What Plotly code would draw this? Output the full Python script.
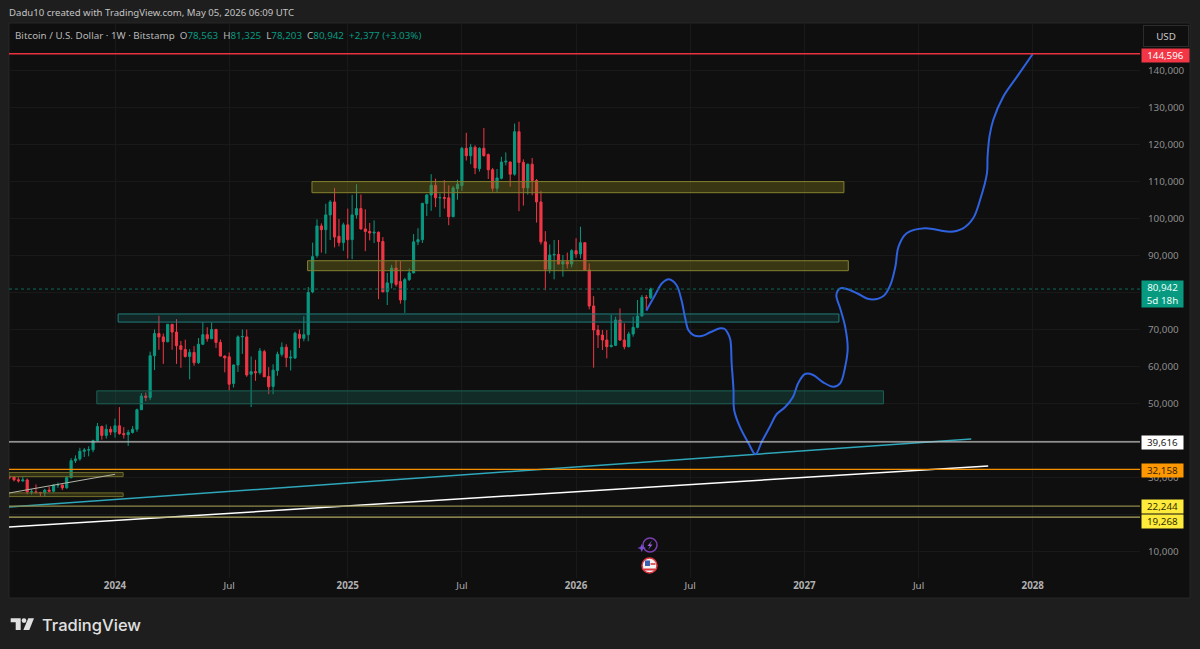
import pandas as pd
import plotly.graph_objects as go

# ---------- weekly candles (Bitstamp BTC/USD) ----------
first_week = "2023-07-17"
opens = [30250,30080,29350,29050,29300,26050,26100,25900,25850,26550,26250,27950,27950,27150,29950,34500,35000,37050,37400,37450,39950,43750,41350,43000,
         42250,43950,41850,41550,42150,43000,48300,52000,51600,62900,68900,68000,66700,71400,69300,65600,64600,62700,63800,61000,66000,68600,67500,70000,66500,62800,
         62600,55400,60400,68000,68000,57900,58600,58300,64000,57300,54600,58900,63300,65200,62300,62300,68700,67600,68600,80200,90000,98000,97000,101000,104500,95200,93500,
         98300,94300,101000,102700,97200,96500,96100,96300,93800,80200,82600,86600,83000,78000,83500,85300,93700,94300,104100,106400,109000,105600,105700,105600,100500,108100,108900,
         119000,117000,119300,113500,119000,117300,113200,108200,110900,115300,115300,112000,123500,115200,108300,114700,110300,104500,93700,86300,90150,90300,87710,88340,87710,
         91320,90420,93480,86090,76350,69860,68500,67150,65350,65710,72560,67150,65350,68780,70580,73650,78700,78563]
highs = [30400,30350,30050,30200,29700,26800,28100,26100,26900,27480,28100,28600,28000,30400,35200,35950,38000,37950,38400,40200,44700,44000,44300,43800,
         45900,49000,43600,42850,43900,48600,52800,52950,64000,70000,73700,68900,71500,71500,72800,66900,67250,64700,65500,67700,72000,70600,71900,70200,67300,63000,
         63800,60500,68400,70000,70000,62700,61800,65000,64500,59800,60600,64000,66500,66000,64400,69400,70000,73600,81500,93500,99800,98700,104000,105000,108300,99900,98900,
         102700,106400,109300,106500,102500,98800,99500,96500,95000,85300,87500,88800,88500,84000,86500,95800,97400,104300,106600,112000,110800,106800,110400,109000,108800,110500,
         119400,123200,120200,119800,119300,124500,117600,113700,113400,116700,117900,115400,125700,126200,116000,114900,116400,110700,107500,96600,93000,94200,94200,90150,90800,91700,
         94700,97800,93500,87890,79000,71210,69860,69860,74000,73460,75720,71660,69410,73460,77975,79330,79330,81325]
lows = [29500,28900,28600,28800,25400,25350,25650,24900,24900,26000,25950,27150,26550,26950,29700,33900,34500,35500,35700,36800,39900,40200,40500,41450,
        40750,41500,40500,38500,41850,42300,48300,50600,50900,59000,64500,60700,66500,64500,60700,59650,62400,56500,60200,60700,65800,66700,67400,65000,63400,58400,
        53500,54300,58500,63400,57200,49000,56100,57800,57200,52500,52500,57500,62700,59800,58900,62000,65000,66800,66800,79800,89400,90800,90500,94200,92200,92500,91300,
        89200,89000,100000,97000,91200,94100,93400,78200,80000,76600,81100,81600,77000,74500,83100,85200,92800,93400,100700,102100,103100,100400,102700,98200,100400,105100,
        107500,115700,114700,112000,112700,116800,110700,107300,107200,110600,114400,108600,111600,102000,103500,106500,106300,98900,93000,80600,85200,83565,87600,84290,86500,86800,
        89400,89200,86000,75450,59670,65000,64450,62200,65170,65500,66900,64630,65170,68055,70310,73500,75270,78203]
closes = [30080,29350,29050,29300,26050,26100,25900,25850,26550,26250,27950,27950,27150,29950,34500,35000,37050,37400,37450,39950,43750,41350,43000,42250,
          43950,41850,41550,42150,43000,48300,52000,51600,62900,68900,68000,66700,71400,69300,65600,64600,62700,63800,61000,66000,68600,67500,70000,66500,62800,62300,
          55200,60400,68000,68100,57700,58600,58300,64200,57200,54500,59000,63300,65200,62400,62500,69000,67600,68600,80000,89700,98000,97000,101000,104500,95000,93500,98300,
          94300,101000,102700,97200,96500,96100,96300,93800,80200,82600,86600,82200,78000,83500,85300,93700,94300,104100,106400,109000,105600,105700,105500,100500,108300,109300,
          119000,117000,119300,113700,119000,117000,113200,108200,111000,115300,115500,112000,123500,115200,108300,114700,110300,104500,93700,86300,90150,90300,87710,88340,87710,91320,
          90420,93480,86090,76350,69860,68500,67150,65350,65710,72560,67150,65350,68780,70580,73650,78700,78563,80942]

# ---------- drawings ----------
blue_dates = ["2026-04-27","2026-05-11","2026-05-22","2026-06-02","2026-06-14","2026-06-22","2026-06-28","2026-07-03","2026-07-11","2026-07-24",
              "2026-08-07","2026-08-23","2026-08-30","2026-09-04","2026-09-08","2026-09-10","2026-09-13","2026-09-14","2026-09-23","2026-10-07","2026-10-18",
              "2026-10-28","2026-11-10","2026-11-21","2026-12-04","2026-12-17","2026-12-25","2027-01-05","2027-01-18","2027-02-03","2027-02-19",
              "2027-03-02","2027-03-10","2027-03-14","2027-03-10","2027-03-02","2027-02-24","2027-03-02","2027-03-13","2027-03-31","2027-04-19",
              "2027-05-10","2027-05-21","2027-05-29","2027-06-03","2027-06-16","2027-07-15","2027-08-24","2027-09-14","2027-09-30","2027-10-11",
              "2027-10-22","2027-10-23","2027-10-26","2027-11-01","2027-11-17","2027-12-09","2028-01-03"]
blue_prices = [75080,79330,82490,83570,82030,77970,73020,69860,68500,68240,
               69240,70320,70130,68970,67160,60850,53630,48220,43700,39210,36240,
               39640,43700,47140,48950,51820,55440,57960,57690,55710,54520,
               55440,59930,64910,70750,75730,79330,81140,80950,79600,78160,
               79060,82030,86980,92390,96020,97370,96450,97370,100070,105020,
               112250,116740,122150,126660,132970,138380,144520]

zone_starts = ["2024-11-10","2024-11-03","2024-01-06","2023-12-03","2023-07-16","2023-07-16"]
zone_ends   = ["2027-03-08","2027-03-15","2027-02-28","2027-05-10","2024-01-14","2024-01-14"]
zone_tops   = [110000,88600,74200,53400,31300,25800]
zone_bottoms= [107000,85900,72000,49900,30200,24800]
zone_lines  = ["#85822f","#85822f","#1f7f7c","#1c6156","#6f6d2b","#6f6d2b"]
zone_fills  = ["rgba(125,118,30,0.38)","rgba(125,118,30,0.38)","rgba(28,120,118,0.22)","rgba(28,120,100,0.28)","rgba(125,118,30,0.30)","rgba(125,118,30,0.30)"]

trend_dates  = [["2023-07-16","2027-09-27"],["2023-07-16","2027-10-24"],["2023-07-16","2024-01-01"]]
trend_prices = [[21980,40370],[16570,33070],[25770,30830]]
trend_colors = ["#2fa7ba","#ffffff","#b5b5a8"]
trend_widths = [1.5,1.5,1]

level_prices = [144596,39616,32158,22244,19268]
level_colors = ["#e8323f","#bdbdbd","#f58f00","#8f8a4a","#b0a860"]
level_widths = [1.4,1.2,1.4,1.2,1.2]
tag_texts   = ["144,596","39,616","32,158","22,244","19,268"]
tag_bg      = ["#f23645","#ffffff","#ff9800","#ffeb3b","#ffeb3b"]
tag_fg      = ["#ffffff","#222222","#3a2500","#333000","#333000"]
tag_shift   = [-2,-1,-1,0,-4]
tag_width   = [47,41,41,41,41]

y_ticks = [10000,20000,30000,40000,50000,60000,70000,80000,90000,100000,110000,120000,130000,140000]
y_labels = ["10,000","","30,000","","50,000","60,000","70,000","","90,000","100,000","110,000","120,000","130,000","140,000"]
x_tick_dates = ["2024-01-01","2024-07-01","2025-01-06","2025-07-07","2026-01-05","2026-07-06","2027-01-04","2027-07-05","2028-01-03"]
x_tick_labels = ["<b>2024</b>","Jul","<b>2025</b>","Jul","<b>2026</b>","Jul","<b>2027</b>","Jul","<b>2028</b>"]

dates = pd.date_range(first_week, periods=len(opens), freq="7D")

# ---------- page geometry ----------
W, H = 1200, 649
PL, PR, PT, PB = 9, 1140, 23, 578
def px(x): return (x - PL) / (PR - PL)
def py(y): return (PB - y) / (PB - PT)
FONT = "Noto Sans"
UP, DOWN = "#089981", "#f23645"

fig = go.Figure()
fig.add_trace(go.Candlestick(x=dates, open=opens, high=highs, low=lows, close=closes,
    increasing=dict(line=dict(color=UP, width=1), fillcolor=UP),
    decreasing=dict(line=dict(color=DOWN, width=1), fillcolor=DOWN),
    whiskerwidth=0, showlegend=False, hoverinfo="skip"))

for x0, x1, top, bot, lc, fc in zip(zone_starts, zone_ends, zone_tops, zone_bottoms, zone_lines, zone_fills):
    fig.add_trace(go.Scatter(x=[x0, x1, x1, x0, x0], y=[top, top, bot, bot, top], mode="lines",
        fill="toself", fillcolor=fc, line=dict(color=lc, width=1), showlegend=False, hoverinfo="skip"))

for xs, ys, c, w in zip(trend_dates, trend_prices, trend_colors, trend_widths):
    fig.add_trace(go.Scatter(x=xs, y=ys, mode="lines", line=dict(color=c, width=w), showlegend=False, hoverinfo="skip"))

fig.add_trace(go.Scatter(x=blue_dates, y=blue_prices, mode="lines",
    line=dict(color="#2f62e0", width=2, shape="spline", smoothing=1.0), showlegend=False, hoverinfo="skip"))

shapes = []
shapes.append(dict(type="rect", xref="paper", yref="paper", x0=px(9), x1=px(1190), y0=py(598), y1=py(23),
                   fillcolor="#0f0f0f", line=dict(color="#262626", width=1), layer="below"))
for p, c, w in zip(level_prices, level_colors, level_widths):
    shapes.append(dict(type="line", xref="paper", yref="y", x0=0, x1=1, y0=p, y1=p, line=dict(color=c, width=w)))
shapes.append(dict(type="line", xref="paper", yref="y", x0=0, x1=1, y0=closes[-1], y1=closes[-1],
                   line=dict(color="#0b6b5a", width=1, dash="dot")))

def ppath(points):
    return "M " + " L ".join(f"{px(a):.5f} {py(b):.5f}" for a, b in points) + " Z"
logo = "#e0e0e0"
shapes.append(dict(type="path", xref="paper", yref="paper", fillcolor=logo, line=dict(width=0),
    path=ppath([(10.7,618.3),(20.7,618.3),(20.7,630),(15.7,630),(15.7,622.3),(10.7,622.3)])))
shapes.append(dict(type="circle", xref="paper", yref="paper", fillcolor=logo, line=dict(width=0),
    x0=px(21.6), x1=px(26.4), y0=py(623), y1=py(618.2)))
shapes.append(dict(type="path", xref="paper", yref="paper", fillcolor=logo, line=dict(width=0),
    path=ppath([(28.3,618.3),(34,618.3),(29.3,630),(23.3,630)])))
shapes.append(dict(type="circle", xref="paper", yref="paper", line=dict(color="#7b3fb0", width=1.5), fillcolor="#0f0f0f",
    x0=px(643), x1=px(657), y0=py(552), y1=py(538)))
shapes.append(dict(type="path", xref="paper", yref="paper", fillcolor="#7b4fd0", line=dict(width=0),
    path=ppath([(641.7,544),(643,547),(646,548),(643,549),(641.7,552),(640.4,549),(637.4,548),(640.4,547)])))
shapes.append(dict(type="path", xref="paper", yref="paper", fillcolor="#a560e0", line=dict(width=0),
    path=ppath([(652,540.5),(647.5,546),(650,546),(648,550),(652.5,544.5),(650,544.5)])))
shapes.append(dict(type="circle", xref="paper", yref="paper", line=dict(color="#d9363e", width=1.5), fillcolor="#f2f2f2",
    x0=px(642), x1=px(657), y0=py(573), y1=py(558)))
shapes.append(dict(type="rect", xref="paper", yref="paper", line=dict(width=0), fillcolor="#d9363e",
    x0=px(644), x1=px(655), y0=py(570.5), y1=py(568.5)))
shapes.append(dict(type="rect", xref="paper", yref="paper", line=dict(width=0), fillcolor="#d9363e",
    x0=px(650.5), x1=px(655.5), y0=py(564.8), y1=py(563.2)))
shapes.append(dict(type="rect", xref="paper", yref="paper", line=dict(width=0), fillcolor="#3b5fb0",
    x0=px(645), x1=px(650), y0=py(566), y1=py(560.5)))

ann = []
def label(text, x, y, size=11, color="#c8c8c8", anchor="left"):
    ann.append(dict(text=text, xref="paper", yref="paper", x=px(x), y=py(y), xanchor=anchor, yanchor="middle",
                    showarrow=False, align="left", font=dict(family=FONT, size=size, color=color)))

label("Dadu10 created with TradingView.com, May 05, 2026 06:09 UTC", 7, 13, 9.6, "#c4c4c4")
g = "#089981"
label(f"Bitcoin / U.S. Dollar · 1W · Bitstamp  O<span style='color:{g}'>78,563</span>  H<span style='color:{g}'>81,325</span>  "
      f"L<span style='color:{g}'>78,203</span>  C<span style='color:{g}'>80,942</span>  <span style='color:{g}'>+2,377 (+3.03%)</span>", 13, 35, 9.8, "#b8b8b8")
ann.append(dict(text="TradingView", xref="paper", yref="paper", x=px(40), y=py(624.5), xanchor="left", yanchor="middle",
                showarrow=False, font=dict(family="Inter", size=16.5, color=logo, weight=500)))
ann.append(dict(text="USD", xref="paper", yref="paper", x=px(1166), y=py(36), xanchor="center", yanchor="middle", showarrow=False,
                width=44, height=20, bordercolor="#2c2c2c", borderwidth=1, borderpad=0, bgcolor="#0f0f0f",
                font=dict(family=FONT, size=9.8, color="#c8c8c8")))
for p, t, bg, fg, s, w in zip(level_prices, tag_texts, tag_bg, tag_fg, tag_shift, tag_width):
    ann.append(dict(text=t, xref="paper", yref="y", x=px(1141), y=p, xanchor="left", yanchor="middle", yshift=s, showarrow=False,
                    width=w, height=13, bgcolor=bg, borderpad=0, font=dict(family=FONT, size=9.8, color=fg)))
ann.append(dict(text="80,942<br>5d 18h", xref="paper", yref="y", x=px(1141), y=closes[-1], xanchor="left", yanchor="middle", yshift=-5,
                showarrow=False, width=41, height=26, bgcolor="#089981", borderpad=0, font=dict(family=FONT, size=9.8, color="#e8fff8")))

fig.update_layout(
    width=W, height=H, margin=dict(l=PL, r=W-PR, t=PT, b=H-PB, autoexpand=False),
    paper_bgcolor="#1e1e1e", plot_bgcolor="#0f0f0f", showlegend=False,
    shapes=shapes, annotations=ann, hovermode=False,
    xaxis=dict(type="date", range=["2023-07-16", "2028-06-22"], rangeslider=dict(visible=False),
               tickmode="array", tickvals=x_tick_dates, ticktext=x_tick_labels,
               showgrid=True, gridcolor="#191919", gridwidth=1, zeroline=False, showline=False,
               ticks="", tickfont=dict(family=FONT, size=9.8, color="#b0b0b0")),
    yaxis=dict(side="right", range=[2780, 152900], tickmode="array", tickvals=y_ticks, ticktext=y_labels,
               showgrid=True, gridcolor="#191919", gridwidth=1, zeroline=False, showline=False,
               ticks="outside", ticklen=5, tickcolor="rgba(0,0,0,0)",
               tickfont=dict(family=FONT, size=9.8, color="#8e8e8e")),
)

fig.write_html("out.html", config=dict(displayModeBar=False), post_script="document.body.style.margin='0';")
